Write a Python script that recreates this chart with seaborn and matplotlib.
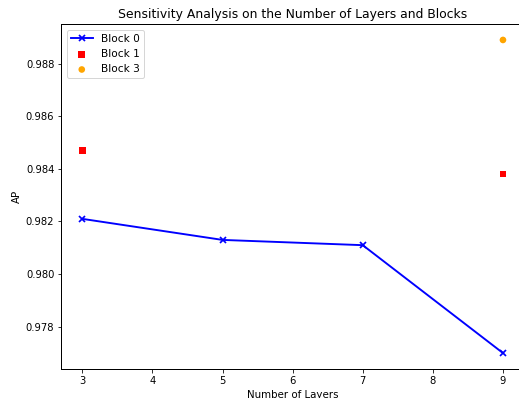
import matplotlib
matplotlib.use("Agg")
import matplotlib.pyplot as plt
import seaborn as sns

layers_b0 = [3, 5, 7, 9]
ap_b0 = [0.9821, 0.9813, 0.9811, 0.9770]
layers_b1 = [3, 9]
ap_b1 = [0.9847, 0.9838]
layers_b3 = [9]
ap_b3 = [0.9889]

plt.rcParams['font.family'] = ['DejaVu Sans']
fig = plt.figure(figsize=(519 / 72, 398 / 72), dpi=72)
ax = fig.add_axes([61.3 / 519, 29.3 / 398, (524 - 61.3) / 519, (368.7 - 24.3) / 398])

sns.lineplot(x=layers_b0, y=ap_b0, ax=ax, color='blue', marker='x',
             markersize=6.5, markeredgecolor='blue', markeredgewidth=1.7,
             linewidth=1.9, label='Block 0')
sns.scatterplot(x=layers_b1, y=ap_b1, ax=ax, color='red', marker='s',
                s=44, edgecolor='none', label='Block 1')
sns.scatterplot(x=layers_b3, y=ap_b3, ax=ax, color='orange', marker='o',
                s=44, edgecolor='none', label='Block 3')

ax.set_title('Sensitivity Analysis on the Number of Layers and Blocks', fontsize=12.4)
ax.set_xlabel('Number of Layers', fontsize=10.2)
ax.set_ylabel('AP', fontsize=10.2)
ax.tick_params(labelsize=10)
for sp in ax.spines.values():
    sp.set_linewidth(1.0)
ax.legend(loc='upper left', fontsize=10.5, handlelength=2.1)

fig.savefig('out.png', dpi=72)
